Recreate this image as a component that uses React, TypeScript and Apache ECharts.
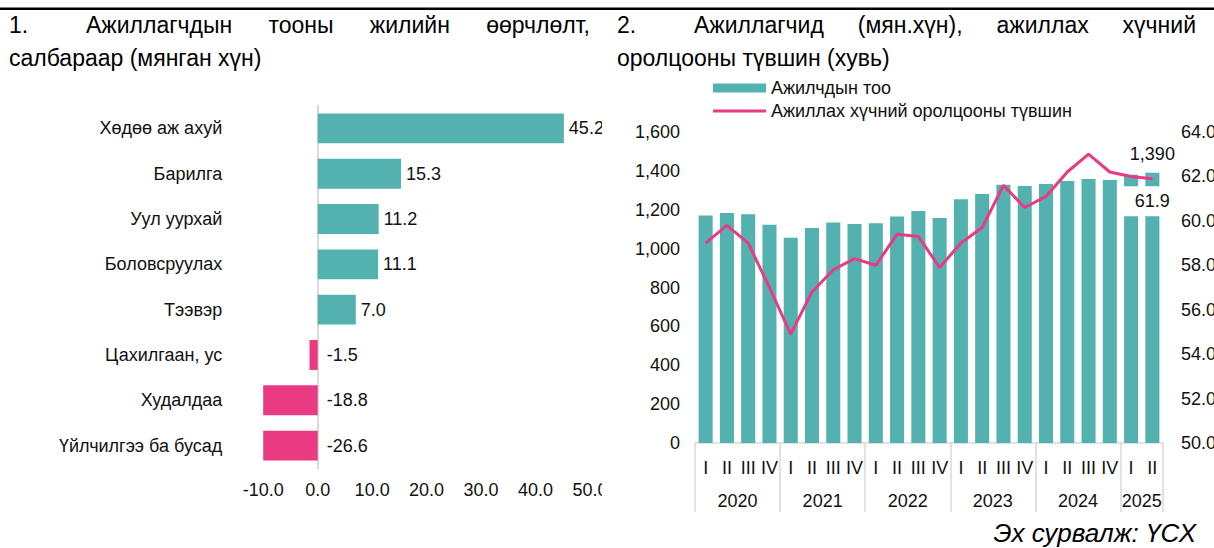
import React, { useEffect, useRef } from 'react';
import * as echarts from 'echarts';

// ---------- data ----------
const sectors = ['Хөдөө аж ахуй', 'Барилга', 'Уул уурхай', 'Боловсруулах', 'Тээвэр', 'Цахилгаан, ус', 'Худалдаа', 'Үйлчилгээ ба бусад'];
const sectorChange = [45.2, 15.3, 11.2, 11.1, 7.0, -1.5, -18.8, -26.6];

const years = ['2020', '2021', '2022', '2023', '2024', '2025'];
const quartersPerYear = [4, 4, 4, 4, 4, 2];
const quarterNames = ['I', 'II', 'III', 'IV'];
const quarters = quartersPerYear.flatMap((n) => quarterNames.slice(0, n));

const employed = [1171, 1183, 1177, 1123, 1056, 1106, 1135, 1127, 1130, 1165, 1194, 1158, 1254, 1281, 1328, 1322, 1332, 1348, 1358, 1353, 1380, 1390];
const participation = [59.0, 59.8, 59.0, 57.0, 54.9, 56.8, 57.8, 58.3, 58.0, 59.4, 59.3, 57.9, 59.0, 59.7, 61.6, 60.6, 61.1, 62.2, 63.0, 62.2, 62.0, 61.9];

const leftTitle1 = ['Ажиллагчдын', 'тооны', 'жилийн', 'өөрчлөлт,'];
const leftTitle2 = 'салбараар (мянган хүн)';
const rightTitle1 = ['Ажиллагчид', '(мян.хүн),', 'ажиллах', 'хүчний'];
const rightTitle2 = 'оролцооны түвшин (хувь)';
const source = 'Эх сурвалж: ҮСХ';
const legendBar = 'Ажилчдын тоо';
const legendLine = 'Ажиллах хүчний оролцооны түвшин';

// ---------- style ----------
const FONT = "'Liberation Sans', Arial, sans-serif";
const TEAL = '#53B1B0';
const PINK = '#EA3A82';
const TEXT = '#111111';
const AXIS_GRAY = '#d9d9d9';
const TITLE_SIZE = 23;

function measure(text: string, size: number): number {
  const ctx = document.createElement('canvas').getContext('2d')!;
  ctx.font = `${size}px 'Liberation Sans', Arial, sans-serif`;
  return ctx.measureText(text).width;
}

function justified(words: string[], x0: number, x1: number, y: number, size: number) {
  const widths = words.map((w) => measure(w, size));
  const total = widths.reduce((a, b) => a + b, 0);
  const gap = (x1 - x0 - total) / (words.length - 1);
  let x = x0;
  return words.map((w, i) => {
    const el = {
      type: 'text',
      x,
      y,
      style: { text: w, fontSize: size, fontFamily: FONT, fill: '#000', verticalAlign: 'middle', align: 'left' },
    };
    x += widths[i] + gap;
    return el;
  });
}

function titleText(text: string, x: number, y: number, size = TITLE_SIZE) {
  return {
    type: 'text',
    x,
    y,
    style: { text, fontSize: size, fontFamily: FONT, fill: '#000', verticalAlign: 'middle', align: 'left' },
  };
}

function topRule(width: number) {
  return { type: 'rect', shape: { x: 0, y: 7.5, width, height: 2.6 }, style: { fill: '#000' } };
}

function leftOption(): any {
  return {
    animation: false,
    textStyle: { fontFamily: FONT },
    grid: { left: 263.2, width: 326.8, top: 105.7, height: 362.6, outerBoundsMode: 'none', containLabel: false },
    xAxis: {
      type: 'value',
      min: -10,
      max: 50,
      interval: 10,
      axisLine: { show: false },
      axisTick: { show: false },
      splitLine: { show: false },
      axisLabel: { formatter: (v: number) => v.toFixed(1), margin: 13, fontSize: 18, color: TEXT, fontFamily: FONT },
    },
    yAxis: {
      type: 'category',
      inverse: true,
      data: sectors,
      axisLine: { show: true, onZero: true, lineStyle: { color: AXIS_GRAY, width: 2 } },
      axisTick: { show: false },
      axisLabel: { margin: 41, fontSize: 18, color: TEXT, fontFamily: FONT },
    },
    series: [
      {
        type: 'bar',
        barCategoryGap: '34%',
        clip: true,
        data: sectorChange.map((v) => ({
          value: v,
          itemStyle: { color: v >= 0 ? TEAL : PINK },
          label: { distance: v >= 0 ? 5 : 9 },
        })),
        label: {
          show: true,
          position: 'right',
          formatter: (p: any) => Number(p.value).toFixed(1),
          fontSize: 18,
          color: TEXT,
          fontFamily: FONT,
        },
      },
    ],
    graphic: [
      topRule(602),
      titleText('1.', 9, 25),
      ...justified(leftTitle1, 86, 590, 25, TITLE_SIZE),
      titleText(leftTitle2, 9, 58),
    ],
  };
}

function rightOption(): any {
  const yearStarts: number[] = [];
  const yearCenters: Record<number, string> = {};
  let acc = 0;
  quartersPerYear.forEach((n, i) => {
    yearStarts.push(acc);
    yearCenters[acc + n / 2] = years[i];
    acc += n;
  });
  const last = employed.length - 1;
  return {
    animation: false,
    textStyle: { fontFamily: FONT },
    grid: { left: 93, width: 468, top: 132, height: 311, outerBoundsMode: 'none', containLabel: false },
    legend: {
      orient: 'vertical',
      left: 111,
      top: 79,
      itemWidth: 53,
      itemHeight: 9,
      itemGap: 5,
      padding: 0,
      symbolKeepAspect: true,
      textStyle: { fontSize: 18, color: TEXT, fontFamily: FONT },
      data: [
        { name: legendBar, icon: 'rect' },
        { name: legendLine, icon: 'path://M0,0 L53,0 L53,3 L0,3 Z', itemStyle: { color: PINK } },
      ],
    },
    xAxis: [
      {
        type: 'category',
        data: quarters,
        axisLine: { show: true, lineStyle: { color: AXIS_GRAY, width: 1.5 } },
        axisTick: {
          show: true,
          interval: (i: number) => yearStarts.includes(i),
          length: 69,
          lineStyle: { color: AXIS_GRAY, width: 1.5 },
        },
        axisLabel: { interval: 0, margin: 16, fontSize: 18, color: TEXT, fontFamily: FONT },
      },
      {
        type: 'value',
        position: 'bottom',
        offset: 0,
        min: 0,
        max: quarters.length,
        interval: 1,
        axisLine: { show: false },
        axisTick: { show: false },
        splitLine: { show: false },
        axisLabel: {
          margin: 49,
          fontSize: 18,
          color: TEXT,
          fontFamily: FONT,
          formatter: (v: number) => yearCenters[v] ?? '',
        },
      },
    ],
    yAxis: [
      {
        type: 'value',
        min: 0,
        max: 1600,
        interval: 200,
        splitLine: { show: false },
        axisLine: { show: false },
        axisTick: { show: false },
        axisLabel: { margin: 15, fontSize: 18, color: TEXT, fontFamily: FONT, formatter: (v: number) => echarts.format.addCommas(v) },
      },
      {
        type: 'value',
        position: 'right',
        min: 50,
        max: 64,
        interval: 2,
        splitLine: { show: false },
        axisLine: { show: false },
        axisTick: { show: false },
        axisLabel: { margin: 18, fontSize: 18, color: TEXT, fontFamily: FONT, formatter: (v: number) => v.toFixed(1) },
      },
    ],
    series: [
      {
        name: legendBar,
        type: 'bar',
        barCategoryGap: '34%',
        itemStyle: { color: TEAL },
        data: employed.map((v, i) =>
          i === last
            ? {
                value: v,
                label: {
                  show: true,
                  position: 'top',
                  distance: 10,
                  fontSize: 18,
                  color: TEXT,
                  fontFamily: FONT,
                  formatter: (p: any) => echarts.format.addCommas(p.value),
                },
              }
            : v
        ),
      },
      {
        name: legendLine,
        type: 'line',
        yAxisIndex: 1,
        symbol: 'none',
        showSymbol: true,
        lineStyle: { color: PINK, width: 3 },
        itemStyle: { color: PINK },
        data: participation.map((v, i) =>
          i === last
            ? {
                value: v,
                symbol: 'circle',
                symbolSize: 1,
                label: {
                  show: true,
                  position: 'bottom',
                  distance: 7,
                  backgroundColor: '#ffffff',
                  padding: [6, 11],
                  fontSize: 18,
                  color: TEXT,
                  fontFamily: FONT,
                  formatter: (p: any) => Number(p.value).toFixed(1),
                },
              }
            : v
        ),
      },
    ],
    graphic: [
      topRule(612),
      titleText('2.', 15, 25),
      ...justified(rightTitle1, 92, 594, 25, TITLE_SIZE),
      titleText(rightTitle2, 15, 58),
      {
        type: 'text',
        x: 594,
        y: 533,
        style: { text: source, fontSize: 26, fontStyle: 'italic', fontFamily: FONT, fill: '#000', align: 'right', verticalAlign: 'middle' },
      },
    ],
  };
}

export default function App() {
  const leftRef = useRef<HTMLDivElement>(null);
  const rightRef = useRef<HTMLDivElement>(null);
  useEffect(() => {
    document.body.style.margin = '0';
    const left = echarts.init(leftRef.current!, null, { renderer: 'svg' });
    const right = echarts.init(rightRef.current!, null, { renderer: 'svg' });
    left.setOption(leftOption());
    right.setOption(rightOption());
    return () => {
      left.dispose();
      right.dispose();
    };
  }, []);
  return (
    <div style={{ position: 'relative', width: 1214, height: 548, background: '#fff', overflow: 'hidden' }}>
      <div ref={leftRef} style={{ position: 'absolute', left: 0, top: 0, width: 602, height: 548 }} />
      <div ref={rightRef} style={{ position: 'absolute', left: 602, top: 0, width: 612, height: 548 }} />
    </div>
  );
}
